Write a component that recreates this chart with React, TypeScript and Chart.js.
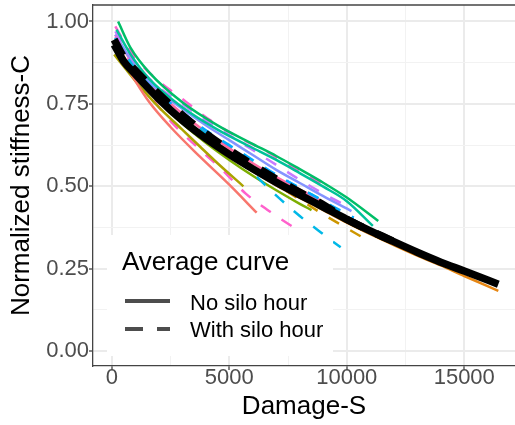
import React, { useEffect, useRef } from "react";
import { Chart, registerables } from "chart.js";

Chart.register(...registerables);

const FONT = '"Liberation Sans", Arial, Helvetica, sans-serif';

// ---- axis ticks ----
const xTickValues = [0, 2500, 5000, 7500, 10000, 12500, 15000];
const xTickLabels = ["0", "", "5000", "", "10000", "", "15000"];
const yTickValues = [0, 0.125, 0.25, 0.375, 0.5, 0.625, 0.75, 0.875, 1.0];
const yTickLabels = ["0.00", "", "0.25", "", "0.50", "", "0.75", "", "1.00"];

const xTitle = "Damage-S";
const yTitle = "Normalized stiffness-C";
const legendTitle = "Average curve";
const legendLabels = ["No silo hour", "With silo hour"];

// ---- average curves ----
const avgNoSiloS = [100, 500, 1000, 2000, 3000, 4000, 5000, 6000, 7000, 8000, 9000, 10000, 11000, 12000, 13000, 14000, 15000, 16450];
const avgNoSiloC = [0.93, 0.88, 0.84, 0.765, 0.70, 0.645, 0.597, 0.553, 0.512, 0.474, 0.437, 0.40, 0.365, 0.332, 0.30, 0.27, 0.243, 0.203];
const avgSiloS = [100, 500, 1000, 2000, 3000, 4000, 5000, 6000, 7000, 8000, 9000, 10000, 11000, 12350];
const avgSiloC = [0.945, 0.893, 0.852, 0.78, 0.716, 0.66, 0.61, 0.565, 0.522, 0.482, 0.444, 0.40, 0.365, 0.322];

// ---- individual mixtures ----
const salmonSolidS = [200, 600, 1000, 1600, 2500, 3750, 5000, 6165];
const salmonSolidC = [0.93, 0.87, 0.82, 0.755, 0.68, 0.59, 0.505, 0.42];
const oliveSolidS = [100, 600, 1000, 2000, 3000, 3760, 4500, 5600];
const oliveSolidC = [0.90, 0.855, 0.82, 0.74, 0.672, 0.62, 0.57, 0.50];
const greenSolidS = [270, 800, 1600, 3000, 4500, 5900, 7000, 8000, 9000, 10000, 11340];
const greenSolidC = [1.0, 0.92, 0.845, 0.755, 0.685, 0.632, 0.592, 0.552, 0.511, 0.466, 0.395];
const tealSolidS = [200, 800, 1600, 3000, 4500, 5900, 7000, 8000, 9000, 10000, 11110];
const tealSolidC = [0.975, 0.9, 0.825, 0.74, 0.672, 0.62, 0.58, 0.54, 0.499, 0.455, 0.38];
const cyanDashS = [150, 1000, 2000, 3000, 4000, 5000, 6000, 6800, 8000, 8900, 9740];
const cyanDashC = [0.95, 0.855, 0.775, 0.715, 0.66, 0.60, 0.54, 0.485, 0.41, 0.36, 0.315];
const pinkDashUpS = [150, 600, 1000, 1900, 3000, 4200, 5300, 6600, 7700, 8900, 9150];
const pinkDashUpC = [0.985, 0.93, 0.89, 0.825, 0.765, 0.70, 0.652, 0.605, 0.557, 0.51, 0.50];
const magentaDashS = [150, 1000, 1800, 2600, 3700, 4700, 5700, 7000, 8080];
const magentaDashC = [0.955, 0.85, 0.76, 0.69, 0.615, 0.55, 0.478, 0.41, 0.36];
const purpleDashS = [150, 1000, 2000, 2800, 4000, 5000, 6000, 7000, 8000, 9000, 10000];
const purpleDashC = [0.97, 0.875, 0.80, 0.76, 0.70, 0.655, 0.61, 0.565, 0.52, 0.478, 0.44];
const lavenderSolidS = [150, 1000, 2000, 3000, 4000, 5000, 6000, 7000, 8000, 9000, 10200];
const lavenderSolidC = [0.96, 0.865, 0.79, 0.735, 0.685, 0.64, 0.595, 0.55, 0.51, 0.47, 0.425];
const blueDashS = [150, 1000, 2000, 3000, 4000, 5000, 6000, 7000, 8000, 9000, 10300];
const blueDashC = [0.95, 0.86, 0.785, 0.725, 0.67, 0.625, 0.58, 0.535, 0.495, 0.455, 0.405];
const orangeSolidS = [300, 1000, 2000, 3000, 4000, 5000, 6000, 7000, 8000, 9000, 10000, 11000, 12000, 13000, 14000, 15000, 16450];
const orangeSolidC = [0.92, 0.835, 0.76, 0.695, 0.64, 0.59, 0.545, 0.503, 0.465, 0.428, 0.39, 0.355, 0.322, 0.29, 0.26, 0.228, 0.183];
const goldDashS = [150, 1000, 2000, 3000, 4000, 5000, 6000, 7000, 8000, 9000, 10000, 10800];
const goldDashC = [0.92, 0.835, 0.765, 0.70, 0.645, 0.595, 0.55, 0.505, 0.46, 0.415, 0.373, 0.34];
const roseSolidS = [150, 1000, 2000, 3000, 4000, 5000, 6000, 7000, 8000, 9000];
const roseSolidC = [0.96, 0.86, 0.785, 0.72, 0.665, 0.615, 0.57, 0.528, 0.49, 0.452];
const aquaDashS = [150, 1000, 2000, 3000, 4000, 5000, 6000, 7000, 8000, 9000, 10000, 11200];
const aquaDashC = [0.95, 0.86, 0.785, 0.722, 0.668, 0.62, 0.575, 0.533, 0.494, 0.456, 0.41, 0.358];
const limeSolidS = [200, 1000, 2000, 3000, 4000, 5000, 6000, 7000, 8000, 8500];
const limeSolidC = [0.92, 0.835, 0.757, 0.69, 0.632, 0.58, 0.532, 0.488, 0.447, 0.428];
const salmonDashS = [150, 1000, 2000, 3000, 4000, 5000, 6000, 7000, 8000, 9000];
const salmonDashC = [0.94, 0.85, 0.775, 0.71, 0.655, 0.607, 0.562, 0.52, 0.48, 0.445];

const mixtures = [
  { s: salmonSolidS, c: salmonSolidC, color: "#F8766D", dashed: false },
  { s: oliveSolidS, c: oliveSolidC, color: "#ABA300", dashed: false },
  { s: greenSolidS, c: greenSolidC, color: "#00BE67", dashed: false },
  { s: tealSolidS, c: tealSolidC, color: "#00C19A", dashed: false },
  { s: cyanDashS, c: cyanDashC, color: "#00B8E7", dashed: true },
  { s: pinkDashUpS, c: pinkDashUpC, color: "#FF61CC", dashed: true },
  { s: magentaDashS, c: magentaDashC, color: "#FF61CC", dashed: true },
  { s: purpleDashS, c: purpleDashC, color: "#C77CFF", dashed: true },
  { s: lavenderSolidS, c: lavenderSolidC, color: "#8494FF", dashed: false },
  { s: blueDashS, c: blueDashC, color: "#00A9FF", dashed: true },
  { s: orangeSolidS, c: orangeSolidC, color: "#E68613", dashed: false },
  { s: goldDashS, c: goldDashC, color: "#CD9600", dashed: true },
  { s: roseSolidS, c: roseSolidC, color: "#FF68A1", dashed: false },
  { s: aquaDashS, c: aquaDashC, color: "#00BFC4", dashed: true },
  { s: limeSolidS, c: limeSolidC, color: "#7CAE00", dashed: false },
  { s: salmonDashS, c: salmonDashC, color: "#F8766D", dashed: true },
];

const toPoints = (s: number[], c: number[]) => s.map((x, i) => ({ x, y: c[i] }));

const isMajor = (v: number, step: number) => Math.abs(v / step - Math.round(v / step)) < 1e-6;

const framePlugin = {
  id: "frameTop",
  beforeDatasetsDraw(chart: any) {
    const { ctx, chartArea } = chart;
    ctx.save();
    ctx.strokeStyle = "#444444";
    ctx.lineWidth = 1.3;
    ctx.beginPath();
    ctx.moveTo(chartArea.left, chartArea.top);
    ctx.lineTo(chartArea.right, chartArea.top);
    ctx.stroke();
    ctx.restore();
  },
};

const legendPlugin = {
  id: "avgLegend",
  afterDraw(chart: any) {
    const ctx = chart.ctx;
    ctx.save();
    ctx.fillStyle = "#FFFFFF";
    ctx.fillRect(107, 235, 226, 121);
    ctx.fillStyle = "#000000";
    ctx.textBaseline = "alphabetic";
    ctx.textAlign = "left";
    ctx.font = `26px ${FONT}`;
    ctx.fillText(legendTitle, 122, 270);
    ctx.strokeStyle = "#4D4D4D";
    ctx.lineWidth = 4;
    ctx.lineCap = "butt";
    ctx.beginPath();
    ctx.moveTo(125, 301);
    ctx.lineTo(170, 301);
    ctx.stroke();
    ctx.setLineDash([18, 14]);
    ctx.beginPath();
    ctx.moveTo(125, 329);
    ctx.lineTo(170, 329);
    ctx.stroke();
    ctx.setLineDash([]);
    ctx.font = `22px ${FONT}`;
    ctx.fillText(legendLabels[0], 190, 310);
    ctx.fillText(legendLabels[1], 190, 337);
    ctx.restore();
  },
};

export default function App() {
  const canvasRef = useRef<HTMLCanvasElement | null>(null);

  useEffect(() => {
    if (!canvasRef.current) return;
    Chart.defaults.font.family = FONT;

    const datasets: any[] = [
      {
        data: toPoints(avgNoSiloS, avgNoSiloC),
        borderColor: "#000000",
        borderWidth: 7.5,
        borderDash: [],
      },
      {
        data: toPoints(avgSiloS, avgSiloC),
        borderColor: "#000000",
        borderWidth: 7.5,
        borderDash: [18, 15],
      },
      ...mixtures.map((m) => ({
        data: toPoints(m.s, m.c),
        borderColor: m.color,
        borderWidth: 2.5,
        borderDash: m.dashed ? [12, 13] : [],
      })),
    ];

    const chart = new Chart(canvasRef.current, {
      type: "line",
      data: { datasets },
      plugins: [framePlugin, legendPlugin],
      options: {
        animation: false,
        responsive: false,
        events: [],
        layout: { padding: { top: 5, left: 0, right: 0, bottom: 0 } },
        plugins: { legend: { display: false }, tooltip: { enabled: false } },
        elements: {
          point: { radius: 0 },
          line: { tension: 0.4, cubicInterpolationMode: "monotone", fill: false, borderCapStyle: "butt" },
        },
        scales: {
          x: {
            type: "linear",
            min: -800,
            max: 17160,
            afterBuildTicks: (scale: any) => {
              scale.ticks = xTickValues.map((v) => ({ value: v }));
            },
            afterFit: (scale: any) => {
              scale.height = 59;
              scale.paddingLeft = 0;
              scale.paddingRight = 0;
            },
            ticks: {
              autoSkip: false,
              maxRotation: 0,
              padding: -3,
              color: "#4D4D4D",
              font: { size: 22, lineHeight: 1 },
              callback: (_v: any, i: number) => xTickLabels[i],
            },
            grid: {
              drawTicks: true,
              tickLength: 4,
              color: (ctx: any) => (ctx.tick && isMajor(ctx.tick.value, 5000) ? "#EBEBEB" : "#F2F2F2"),
              lineWidth: (ctx: any) => (ctx.tick && isMajor(ctx.tick.value, 5000) ? 2 : 1),
              tickColor: (ctx: any) => (ctx.tick && isMajor(ctx.tick.value, 5000) ? "#333333" : "rgba(0,0,0,0)"),
              tickWidth: 1.2,
            },
            border: { display: true, color: "#444444", width: 1.3 },
            title: {
              display: true,
              text: xTitle,
              color: "#000000",
              font: { size: 26 },
              padding: { top: 0, bottom: 3 },
            },
          },
          y: {
            type: "linear",
            min: -0.045,
            max: 1.05,
            afterBuildTicks: (scale: any) => {
              scale.ticks = yTickValues.map((v) => ({ value: v }));
            },
            afterFit: (scale: any) => {
              scale.width = 93;
              scale.paddingTop = 0;
              scale.paddingBottom = 0;
            },
            ticks: {
              autoSkip: false,
              padding: 0,
              color: "#4D4D4D",
              font: { size: 22, lineHeight: 1 },
              callback: (_v: any, i: number) => yTickLabels[i],
            },
            grid: {
              drawTicks: true,
              tickLength: 4,
              color: (ctx: any) => (ctx.tick && isMajor(ctx.tick.value, 0.25) ? "#EBEBEB" : "#F2F2F2"),
              lineWidth: (ctx: any) => (ctx.tick && isMajor(ctx.tick.value, 0.25) ? 2 : 1),
              tickColor: (ctx: any) => (ctx.tick && isMajor(ctx.tick.value, 0.25) ? "#333333" : "rgba(0,0,0,0)"),
              tickWidth: 1.2,
            },
            border: { display: true, color: "#444444", width: 1.3 },
            title: {
              display: true,
              text: yTitle,
              color: "#000000",
              font: { size: 26 },
              padding: { top: 6, bottom: 0 },
            },
          },
        },
      } as any,
    });

    return () => chart.destroy();
  }, []);

  return (
    <div style={{ position: "fixed", left: 0, top: 0, width: 515, height: 425, background: "#FFFFFF", overflow: "hidden" }}>
      <canvas ref={canvasRef} width={515} height={425} style={{ display: "block" }} />
    </div>
  );
}
